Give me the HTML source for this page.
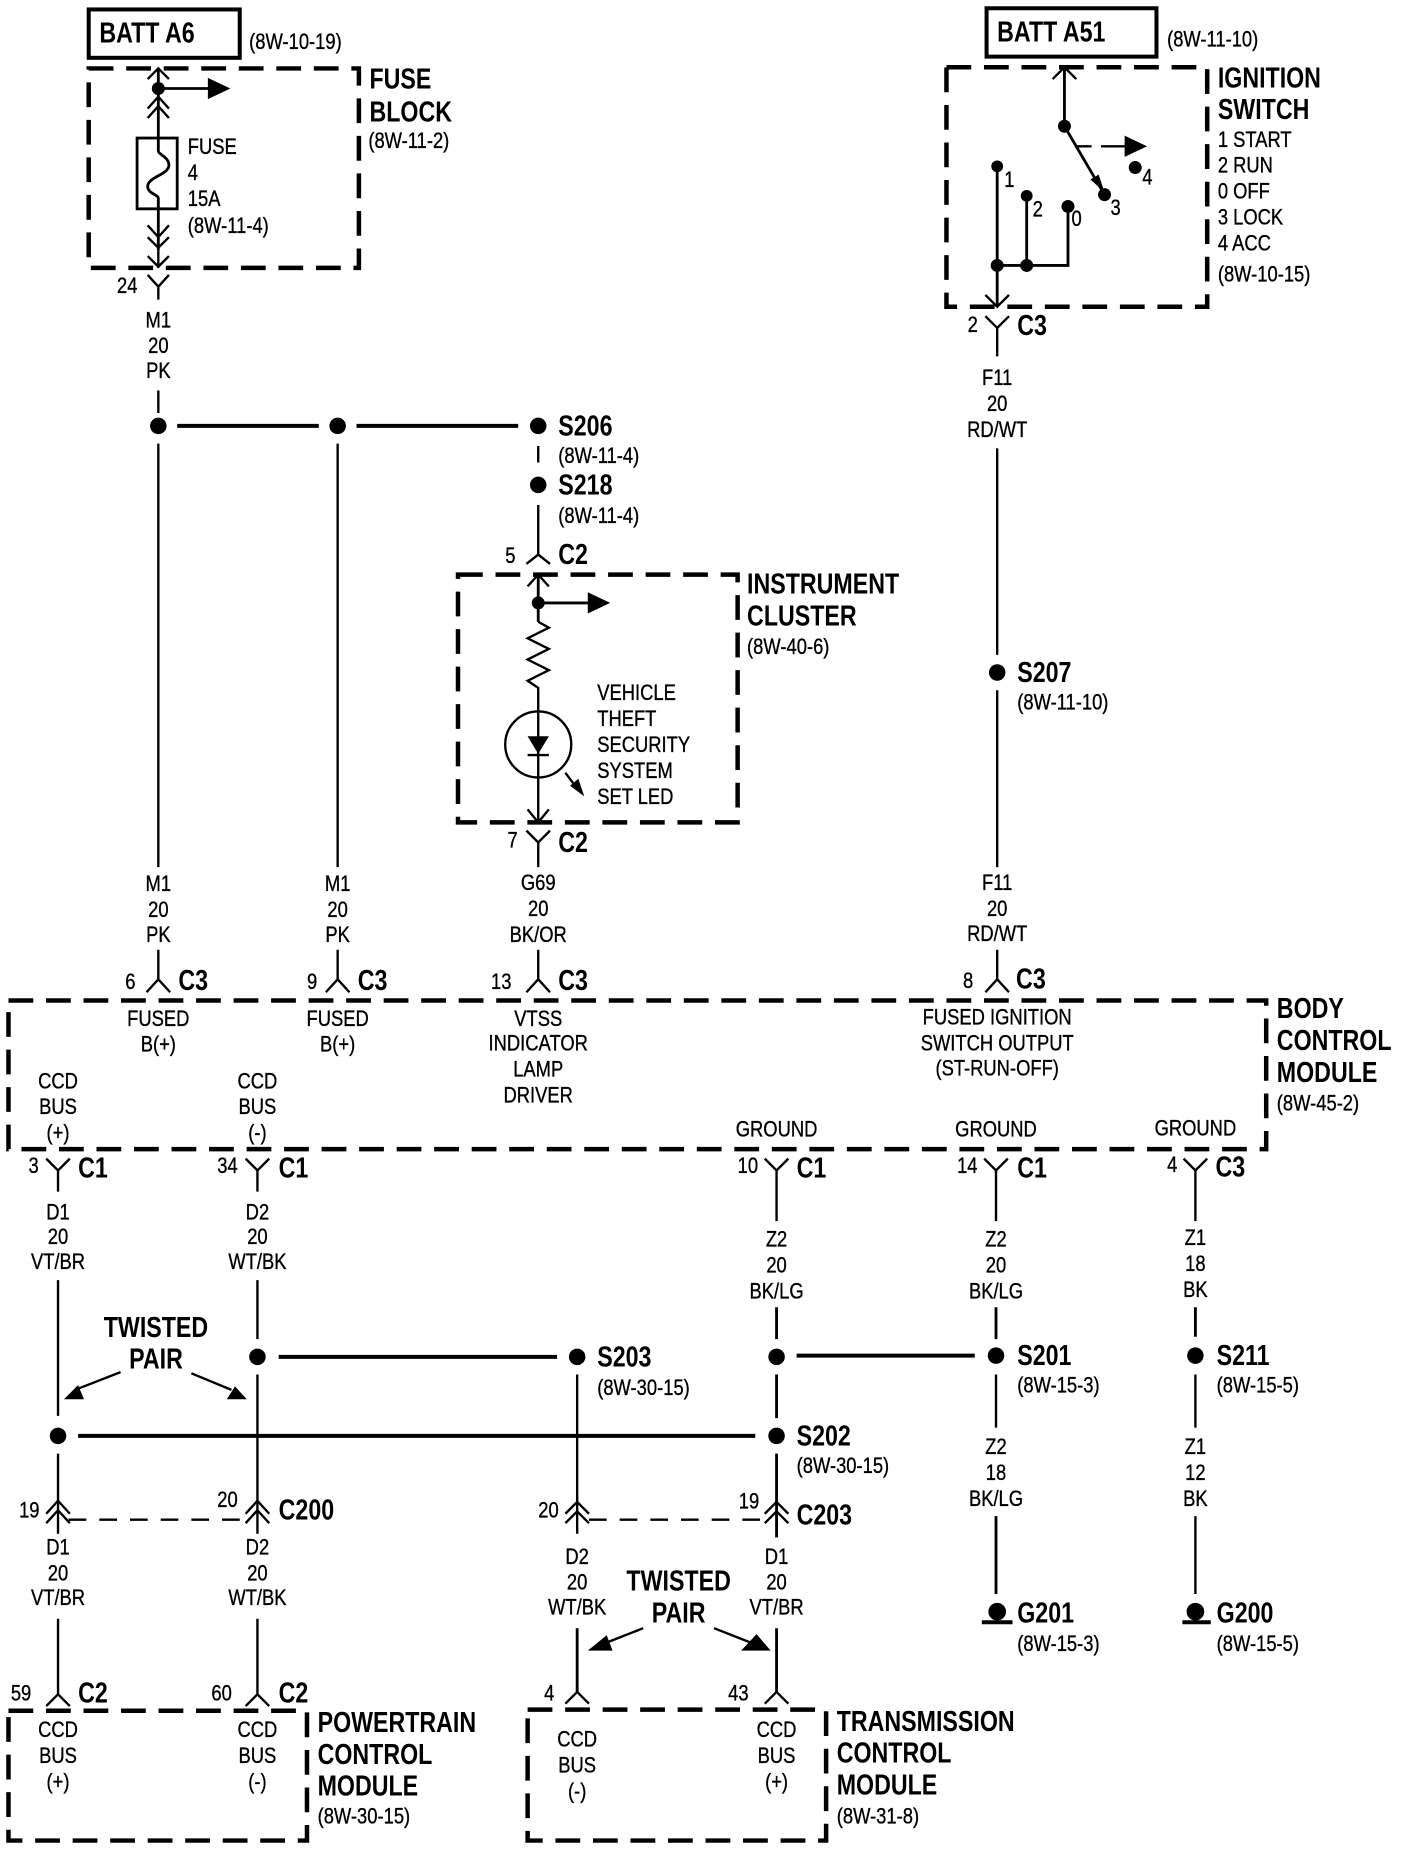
<!DOCTYPE html>
<html><head><meta charset="utf-8"><title>Wiring diagram</title>
<style>
html,body{margin:0;padding:0;background:#fff}
svg{display:block}
text{font-family:"Liberation Sans",Arial,sans-serif;fill:#000;transform-box:fill-box}
.a,.c{font-size:19px;transform:translateY(-.6px) scaleX(.82);stroke:#000;stroke-width:.3px}
.b,.d{font-size:24px;font-weight:bold;transform:scaleX(.82)}
.a,.b{text-anchor:start;transform-origin:0 0}
.c,.d{text-anchor:middle;transform-origin:50% 50%}
.t{fill:none;stroke:#000;stroke-width:2}
.k{fill:none;stroke:#000;stroke-width:3.4}
.v{fill:none;stroke:#000;stroke-width:2.4}
.x{fill:none;stroke:#000;stroke-width:3.8;stroke-dasharray:21 10.8}
.y{fill:none;stroke:#000;stroke-width:2;stroke-dasharray:15 11}
</style></head><body>
<svg xmlns="http://www.w3.org/2000/svg" width="1408" height="1850" viewBox="0 0 1193 1568">
<rect width="1193" height="1568" fill="#fff"/>

<!-- boxes -->
<rect x="75" y="8" width="128" height="41" fill="none" stroke="#000" stroke-width="3.4"/>
<rect x="836" y="7" width="144" height="41" fill="none" stroke="#000" stroke-width="3.4"/>
<rect class="x" x="75" y="58" width="229" height="169"/>
<rect class="x" x="802" y="57" width="221" height="203"/>
<rect class="x" x="388" y="487" width="237" height="210"/>
<rect class="x" x="7" y="848" width="1066" height="126"/>
<rect class="x" x="7" y="1450" width="253" height="110"/>
<rect class="x" x="447" y="1449" width="253" height="111"/>

<!-- fuse block internals -->
<path class="t" d="M125 67L134 58L143 67M125 92L134 82L143 92M125 100L134 90L143 100M125 191L134 201L143 191M125 201L134 210L143 201M125 217L134 226L143 217"/>
<path class="v" d="M134 58V117M134 177V212"/>
<path class="t" d="M134 212V227"/>
<circle cx="134" cy="75" r="5.5"/>
<path class="v" d="M134 75H178"/><path d="M176 66L195 75L176 84Z"/>
<rect class="v" x="116" y="117" width="34" height="60"/>
<path class="v" d="M134 117V128C134 131 143 133 143 140C143 148 125 150 125 158C125 164 134 165 134 168V177"/>
<path class="t" d="M125 233L134 243L143 233M134 243V254M134 331V350"/>

<!-- top splice row -->
<circle cx="134" cy="361" r="7"/><circle cx="286" cy="361" r="7"/><circle cx="456" cy="361" r="7"/><circle cx="456" cy="411" r="7"/>
<path class="k" d="M150 361H270M302 361H439"/>
<path class="t" d="M134 376V735M286 376V735M456 378V392M456 428V470M446 478L456 470L466 478"/>

<!-- instrument cluster -->
<path class="t" d="M447 497L456 487L465 497"/>
<path class="v" d="M456 487V527"/>
<circle cx="456" cy="511" r="5.5"/>
<path class="v" d="M456 511H500"/><path d="M498 502L517 511L498 520Z"/>
<path class="t" d="M456 527L465 532L447 541L465 550L447 559L465 568L447 577L456 583V697M447 686L456 697L465 686"/>
<circle class="t" cx="456" cy="631" r="28"/>
<path d="M447 624H465L456 639Z"/><path class="t" d="M447 640H465"/>
<path class="t" d="M479 655L488 667"/><path d="M483 666L490 660L495 675Z"/>
<path class="t" d="M446 704L456 714L466 704M456 714V735"/>

<!-- ignition switch -->
<path class="t" d="M892 67L902 57L912 67"/>
<path class="v" d="M902 57V107L936 165"/>
<circle cx="902" cy="107" r="5.5"/><circle cx="936" cy="165" r="5.5"/><circle cx="962" cy="142" r="5.5"/>
<circle cx="845" cy="141" r="5"/><circle cx="870" cy="166" r="5"/><circle cx="905" cy="175" r="5.5"/>
<circle cx="845" cy="225" r="5.5"/><circle cx="870" cy="225" r="5.5"/>
<path d="M924 152L931 148L936 163Z"/>
<path class="t" d="M911 124H925M933 124H955"/><path d="M953 115L972 124L953 133Z"/>
<path class="v" d="M845 141V260M870 166V225M845 225H905V175"/>
<path class="t" d="M835 250L845 260L855 250"/>
<path class="t" d="M835 268L845 278L855 268M845 278V302M845 380V555M845 585V735"/>
<circle cx="845" cy="570" r="7"/>

<!-- connectors into BCM -->
<path class="t" d="M134 805V830M124 841L134 830L144 841M286 805V830M276 841L286 830L296 841M456 805V830M446 841L456 830L466 841M845 805V830M835 841L845 830L855 841"/>

<!-- BCM bottom connectors -->
<path class="t" d="M39 982L49 992L59 982M49 992V1010M208 982L218 992L228 982M218 992V1010M648 982L658 992L668 982M834 982L844 992L854 982M1003 982L1013 992L1023 982M658 992V1035M844 992V1035M1013 992V1035"/>

<!-- middle wires -->
<path class="t" d="M49 1085V1200M49 1232V1300M218 1085V1135M218 1165V1300M489 1165V1300M844 1165V1210M1013 1165V1210M1013 1285V1351"/>
<path class="v" d="M658 1108V1135M658 1165V1202M658 1232V1303M844 1108V1135M1013 1108V1133M844 1285V1351"/>
<circle cx="218" cy="1150" r="7"/><circle cx="49" cy="1217" r="7"/><circle cx="489" cy="1150" r="7"/>
<circle cx="658" cy="1150" r="7"/><circle cx="658" cy="1217" r="7"/><circle cx="844" cy="1149" r="7"/><circle cx="1013" cy="1149" r="7"/>
<path class="k" d="M236 1150H472M66 1217H640M675 1149H826"/>

<!-- grounds -->
<circle cx="845" cy="1366" r="7.5"/><circle cx="1013" cy="1366" r="7.5"/>
<path class="k" d="M832 1375H858M1002 1375H1026"/>

<!-- twisted pair arrows -->
<path class="t" d="M102 1163L66 1177M162 1164L196 1178"/>
<path d="M54 1186L66 1174L71 1186Z"/><path d="M209 1186L192 1186L199 1175Z"/>
<path class="t" d="M545 1380L512 1393M605 1380L638 1393"/>
<path d="M498 1399L514 1386L519 1399Z"/><path d="M653 1399L628 1399L641 1385Z"/>

<!-- inline connectors -->
<path class="t" d="M39 1283L49 1272L59 1283M39 1291L49 1280L59 1291M208 1283L218 1272L228 1283M208 1291L218 1280L228 1291M479 1283L489 1273L499 1283M479 1291L489 1281L499 1291M648 1283L658 1273L668 1283M648 1291L658 1281L668 1291"/>
<path class="y" d="M58 1288H208M499 1288H648"/>

<!-- lower wires -->
<path class="t" d="M49 1372V1436M39 1446L49 1436L59 1446M218 1372V1436M208 1446L218 1436L228 1446M479 1444L489 1434L499 1444M648 1444L658 1434L668 1444"/>
<path class="v" d="M489 1380V1434M658 1380V1434"/>

<!-- bold labels -->
<text class="b" x="84" y="36">BATT A6</text>
<text class="b" x="845" y="35">BATT A51</text>
<text class="b" x="313" y="75">FUSE</text>
<text class="b" x="313" y="103">BLOCK</text>
<text class="b" x="1032" y="74">IGNITION</text>
<text class="b" x="1032" y="101">SWITCH</text>
<text class="b" x="473" y="369">S206</text>
<text class="b" x="473" y="419">S218</text>
<text class="b" x="473" y="478">C2</text>
<text class="b" x="473" y="722">C2</text>
<text class="b" x="633" y="503">INSTRUMENT</text>
<text class="b" x="633" y="530">CLUSTER</text>
<text class="b" x="862" y="284">C3</text>
<text class="b" x="862" y="578">S207</text>
<text class="b" x="151" y="839">C3</text>
<text class="b" x="303" y="839">C3</text>
<text class="b" x="473" y="839">C3</text>
<text class="b" x="861" y="838">C3</text>
<text class="b" x="1082" y="863">BODY</text>
<text class="b" x="1082" y="890">CONTROL</text>
<text class="b" x="1082" y="917">MODULE</text>
<text class="b" x="66" y="998">C1</text>
<text class="b" x="236" y="998">C1</text>
<text class="b" x="675" y="998">C1</text>
<text class="b" x="862" y="998">C1</text>
<text class="b" x="1030" y="997">C3</text>
<text class="d" x="132" y="1133">TWISTED</text>
<text class="d" x="132" y="1160">PAIR</text>
<text class="b" x="506" y="1158">S203</text>
<text class="b" x="675" y="1225">S202</text>
<text class="b" x="862" y="1157">S201</text>
<text class="b" x="1031" y="1157">S211</text>
<text class="b" x="236" y="1288">C200</text>
<text class="b" x="675" y="1292">C203</text>
<text class="d" x="575" y="1348">TWISTED</text>
<text class="d" x="575" y="1375">PAIR</text>
<text class="b" x="862" y="1375">G201</text>
<text class="b" x="1031" y="1375">G200</text>
<text class="b" x="66" y="1443">C2</text>
<text class="b" x="236" y="1443">C2</text>
<text class="b" x="269" y="1468">POWERTRAIN</text>
<text class="b" x="269" y="1495">CONTROL</text>
<text class="b" x="269" y="1522">MODULE</text>
<text class="b" x="709" y="1467">TRANSMISSION</text>
<text class="b" x="709" y="1494">CONTROL</text>
<text class="b" x="709" y="1521">MODULE</text>

<!-- regular labels -->
<text class="a" x="211" y="42">(8W-10-19)</text>
<text class="a" x="989" y="40">(8W-11-10)</text>
<text class="a" x="312" y="126">(8W-11-2)</text>
<text class="a" x="159" y="131">FUSE</text>
<text class="a" x="159" y="153">4</text>
<text class="a" x="159" y="175">15A</text>
<text class="a" x="159" y="198">(8W-11-4)</text>
<text class="a" x="99" y="249">24</text>
<text class="c" x="134" y="278">M1</text>
<text class="c" x="134" y="300">20</text>
<text class="c" x="134" y="321">PK</text>
<text class="a" x="473" y="393">(8W-11-4)</text>
<text class="a" x="473" y="444">(8W-11-4)</text>
<text class="a" x="428" y="478">5</text>
<text class="a" x="633" y="555">(8W-40-6)</text>
<text class="a" x="506" y="594">VEHICLE</text>
<text class="a" x="506" y="616">THEFT</text>
<text class="a" x="506" y="638">SECURITY</text>
<text class="a" x="506" y="660">SYSTEM</text>
<text class="a" x="506" y="682">SET LED</text>
<text class="a" x="430" y="719">7</text>
<text class="a" x="1032" y="125">1 START</text>
<text class="a" x="1032" y="147">2 RUN</text>
<text class="a" x="1032" y="169">0 OFF</text>
<text class="a" x="1032" y="191">3 LOCK</text>
<text class="a" x="1032" y="213">4 ACC</text>
<text class="a" x="1032" y="239">(8W-10-15)</text>
<text class="a" x="851" y="159">1</text>
<text class="a" x="875" y="184">2</text>
<text class="a" x="908" y="192">0</text>
<text class="a" x="941" y="183">3</text>
<text class="a" x="968" y="157">4</text>
<text class="a" x="820" y="282">2</text>
<text class="c" x="845" y="327">F11</text>
<text class="c" x="845" y="349">20</text>
<text class="c" x="845" y="371">RD/WT</text>
<text class="a" x="862" y="602">(8W-11-10)</text>
<text class="c" x="134" y="756">M1</text>
<text class="c" x="134" y="778">20</text>
<text class="c" x="134" y="799">PK</text>
<text class="c" x="286" y="756">M1</text>
<text class="c" x="286" y="778">20</text>
<text class="c" x="286" y="799">PK</text>
<text class="c" x="456" y="755">G69</text>
<text class="c" x="456" y="777">20</text>
<text class="c" x="456" y="799">BK/OR</text>
<text class="c" x="845" y="755">F11</text>
<text class="c" x="845" y="777">20</text>
<text class="c" x="845" y="798">RD/WT</text>
<text class="a" x="106" y="839">6</text>
<text class="a" x="260" y="839">9</text>
<text class="a" x="416" y="839">13</text>
<text class="a" x="816" y="838">8</text>
<text class="c" x="134" y="870">FUSED</text>
<text class="c" x="134" y="892">B(+)</text>
<text class="c" x="286" y="870">FUSED</text>
<text class="c" x="286" y="892">B(+)</text>
<text class="c" x="456" y="870">VTSS</text>
<text class="c" x="456" y="891">INDICATOR</text>
<text class="c" x="456" y="913">LAMP</text>
<text class="c" x="456" y="935">DRIVER</text>
<text class="c" x="845" y="869">FUSED IGNITION</text>
<text class="c" x="845" y="891">SWITCH OUTPUT</text>
<text class="c" x="845" y="912">(ST-RUN-OFF)</text>
<text class="a" x="1082" y="942">(8W-45-2)</text>
<text class="c" x="49" y="923">CCD</text>
<text class="c" x="49" y="945">BUS</text>
<text class="c" x="49" y="967">(+)</text>
<text class="c" x="218" y="923">CCD</text>
<text class="c" x="218" y="945">BUS</text>
<text class="c" x="218" y="967">(-)</text>
<text class="c" x="658" y="964">GROUND</text>
<text class="c" x="844" y="964">GROUND</text>
<text class="c" x="1013" y="963">GROUND</text>
<text class="a" x="24" y="995">3</text>
<text class="a" x="184" y="995">34</text>
<text class="a" x="625" y="995">10</text>
<text class="a" x="811" y="995">14</text>
<text class="a" x="989" y="994">4</text>
<text class="c" x="49" y="1034">D1</text>
<text class="c" x="49" y="1055">20</text>
<text class="c" x="49" y="1076">VT/BR</text>
<text class="c" x="218" y="1034">D2</text>
<text class="c" x="218" y="1055">20</text>
<text class="c" x="218" y="1076">WT/BK</text>
<text class="c" x="658" y="1057">Z2</text>
<text class="c" x="658" y="1079">20</text>
<text class="c" x="658" y="1101">BK/LG</text>
<text class="c" x="844" y="1057">Z2</text>
<text class="c" x="844" y="1079">20</text>
<text class="c" x="844" y="1101">BK/LG</text>
<text class="c" x="1013" y="1056">Z1</text>
<text class="c" x="1013" y="1078">18</text>
<text class="c" x="1013" y="1100">BK</text>
<text class="a" x="506" y="1183">(8W-30-15)</text>
<text class="a" x="675" y="1249">(8W-30-15)</text>
<text class="a" x="862" y="1181">(8W-15-3)</text>
<text class="a" x="1031" y="1181">(8W-15-5)</text>
<text class="c" x="844" y="1233">Z2</text>
<text class="c" x="844" y="1255">18</text>
<text class="c" x="844" y="1277">BK/LG</text>
<text class="c" x="1013" y="1233">Z1</text>
<text class="c" x="1013" y="1255">12</text>
<text class="c" x="1013" y="1277">BK</text>
<text class="a" x="16" y="1287">19</text>
<text class="a" x="184" y="1278">20</text>
<text class="a" x="456" y="1287">20</text>
<text class="a" x="626" y="1279">19</text>
<text class="c" x="49" y="1318">D1</text>
<text class="c" x="49" y="1340">20</text>
<text class="c" x="49" y="1361">VT/BR</text>
<text class="c" x="218" y="1318">D2</text>
<text class="c" x="218" y="1340">20</text>
<text class="c" x="218" y="1361">WT/BK</text>
<text class="c" x="489" y="1326">D2</text>
<text class="c" x="489" y="1348">20</text>
<text class="c" x="489" y="1369">WT/BK</text>
<text class="c" x="658" y="1326">D1</text>
<text class="c" x="658" y="1348">20</text>
<text class="c" x="658" y="1369">VT/BR</text>
<text class="a" x="862" y="1400">(8W-15-3)</text>
<text class="a" x="1031" y="1400">(8W-15-5)</text>
<text class="a" x="9" y="1442">59</text>
<text class="a" x="179" y="1442">60</text>
<text class="a" x="461" y="1442">4</text>
<text class="a" x="617" y="1442">43</text>
<text class="c" x="49" y="1473">CCD</text>
<text class="c" x="49" y="1495">BUS</text>
<text class="c" x="49" y="1517">(+)</text>
<text class="c" x="218" y="1473">CCD</text>
<text class="c" x="218" y="1495">BUS</text>
<text class="c" x="218" y="1517">(-)</text>
<text class="a" x="269" y="1546">(8W-30-15)</text>
<text class="c" x="489" y="1481">CCD</text>
<text class="c" x="489" y="1503">BUS</text>
<text class="c" x="489" y="1525">(-)</text>
<text class="c" x="658" y="1473">CCD</text>
<text class="c" x="658" y="1495">BUS</text>
<text class="c" x="658" y="1517">(+)</text>
<text class="a" x="709" y="1546">(8W-31-8)</text>
</svg>
</body></html>
